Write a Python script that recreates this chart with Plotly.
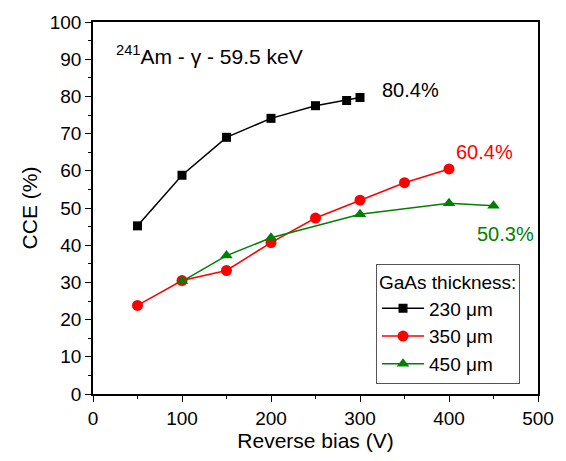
import plotly.graph_objects as go

x230 = [50, 100, 150, 200, 250, 285, 300]
y230 = [45.2, 58.8, 69.0, 74.1, 77.5, 78.9, 79.7]
x350 = [50, 100, 150, 200, 250, 300, 350, 400]
y350 = [23.8, 30.5, 33.2, 40.7, 47.3, 52.1, 56.8, 60.5]
x450 = [100, 150, 200, 300, 400, 450]
y450 = [30.3, 37.2, 42.0, 48.3, 51.3, 50.6]

FONT = "Liberation Sans, Arial, sans-serif"

fig = go.Figure()
fig.add_trace(go.Scatter(x=x230, y=y230, mode="lines+markers", name="230 μm",
                         line=dict(color="black", width=1.5),
                         marker=dict(symbol="square", size=9, color="black")))
fig.add_trace(go.Scatter(x=x350, y=y350, mode="lines+markers", name="350 μm",
                         line=dict(color="red", width=1.5),
                         marker=dict(symbol="circle", size=11, color="red")))
fig.add_trace(go.Scatter(x=x450, y=y450, mode="lines+markers", name="450 μm",
                         line=dict(color="green", width=1.5),
                         marker=dict(symbol="triangle-up", size=11, color="green")))

axis_common = dict(showline=True, linecolor="black", linewidth=1.5, mirror=True,
                   ticks="outside", ticklen=6, tickwidth=1.2, tickcolor="black",
                   showgrid=False, zeroline=False,
                   tickfont=dict(family=FONT, size=19, color="black"),
                   minor=dict(ticks="outside", ticklen=3, tickwidth=1.2, tickcolor="black"))

fig.update_xaxes(range=[0, 500], dtick=100, minor_dtick=50,
                 title=dict(text="Reverse bias (V)", font=dict(family=FONT, size=21, color="black"), standoff=6),
                 **axis_common)
fig.update_yaxes(range=[0, 100], dtick=10, minor_dtick=5,
                 title=dict(text="CCE (%)", font=dict(family=FONT, size=21, color="black"), standoff=6),
                 **axis_common)

fig.add_annotation(x=0.048, y=0.912, xref="paper", yref="paper", xanchor="left", yanchor="middle",
                   text="<sup>241</sup>Am - γ - 59.5 keV", showarrow=False,
                   font=dict(family=FONT, size=21, color="black"))
fig.add_annotation(x=300, y=80.4, xref="x", yref="y", xanchor="left", yanchor="middle", xshift=20, yshift=5,
                   text="80.4%", showarrow=False, font=dict(family=FONT, size=20, color="black"))
fig.add_annotation(x=400, y=60.4, xref="x", yref="y", xanchor="left", yanchor="middle", xshift=5, yshift=17,
                   text="60.4%", showarrow=False, font=dict(family=FONT, size=20, color="red"))
fig.add_annotation(x=450, y=50.3, xref="x", yref="y", xanchor="right", yanchor="middle", xshift=42, yshift=-27,
                   text="50.3%", showarrow=False, font=dict(family=FONT, size=20, color="green"))

fig.update_layout(
    width=566, height=461,
    margin=dict(l=93, r=20, t=22, b=67),
    plot_bgcolor="white", paper_bgcolor="white",
    font=dict(family=FONT, size=19, color="black"),
    legend=dict(title=dict(text="GaAs thickness:", font=dict(family=FONT, size=19)),
                x=0.636, y=0.35, xanchor="left", yanchor="top",
                bordercolor="#555", borderwidth=1, bgcolor="white",
                font=dict(family=FONT, size=19), itemwidth=42, tracegroupgap=0),
)

fig.write_html("out.html")
